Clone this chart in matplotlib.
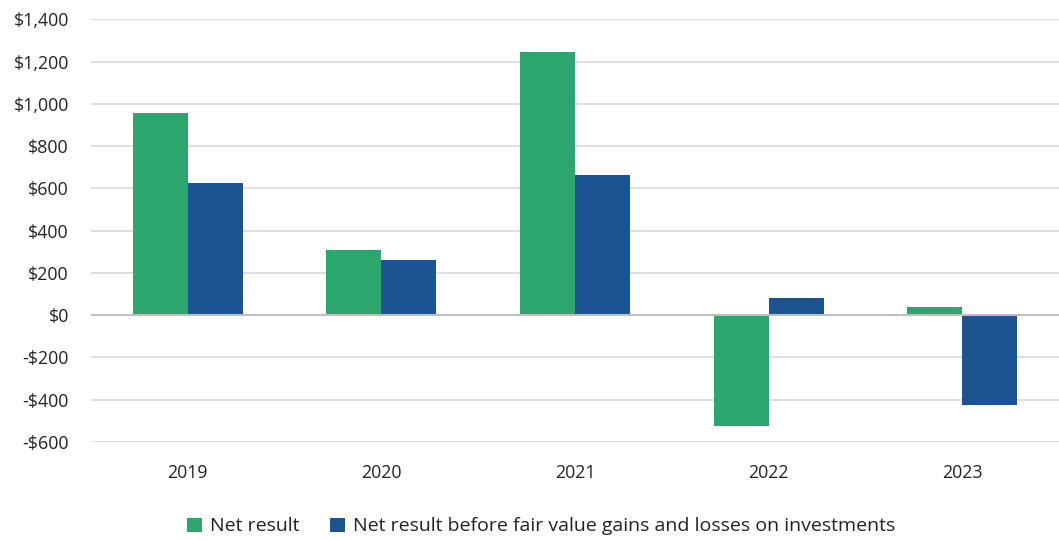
import matplotlib.pyplot as plt
import matplotlib.ticker as mticker
import numpy as np

YEARS = ['2019', '2020', '2021', '2022', '2023']
NET_RESULT = [957, 307, 1248, -524, 41]
NET_BEFORE_FV = [624, 260, 662, 83, -427]
LABELS = ['Net result', 'Net result before fair value gains and losses on investments']

GREEN = '#2CA66C'
BLUE = '#1C5391'

plt.rcParams['font.family'] = ['Open Sans', 'DejaVu Sans']

fig = plt.figure(figsize=(10.59, 5.40), dpi=100)
ax = fig.add_axes([0.086, 0.1815, 0.914, 0.7825])

x = np.arange(len(YEARS))
w = 0.284
ax.bar(x - w / 2, NET_RESULT, w, color=GREEN, label=LABELS[0], zorder=3)
ax.bar(x + w / 2, NET_BEFORE_FV, w, color=BLUE, label=LABELS[1], zorder=3)

ax.set_xlim(-0.5, len(YEARS) - 0.5)
ax.set_ylim(-600, 1400)
ax.set_yticks(range(-600, 1401, 200))


def money(v, pos):
    v = int(round(v))
    return ('-$' if v < 0 else '$') + format(abs(v), ',')


ax.yaxis.set_major_formatter(mticker.FuncFormatter(money))
ax.set_xticks(x)
ax.set_xticklabels(YEARS)
ax.grid(axis='y', color='#D9D9D9', linewidth=1.2, zorder=0)
ax.axhline(0, color='#BFBFBF', linewidth=1.5, zorder=4)
for s in ax.spines.values():
    s.set_visible(False)
ax.tick_params(axis='both', length=0, labelsize=12.8, colors='#222222')
ax.tick_params(axis='x', pad=16)
ax.tick_params(axis='y', pad=16)

fig.legend(loc='lower center', bbox_to_anchor=(0.511, -0.024), ncol=2, frameon=False,
           fontsize=14, handlelength=0.75, handleheight=0.75, handletextpad=0.4,
           columnspacing=1.6, labelcolor='#222222')

fig.savefig('out.png', dpi=100)
